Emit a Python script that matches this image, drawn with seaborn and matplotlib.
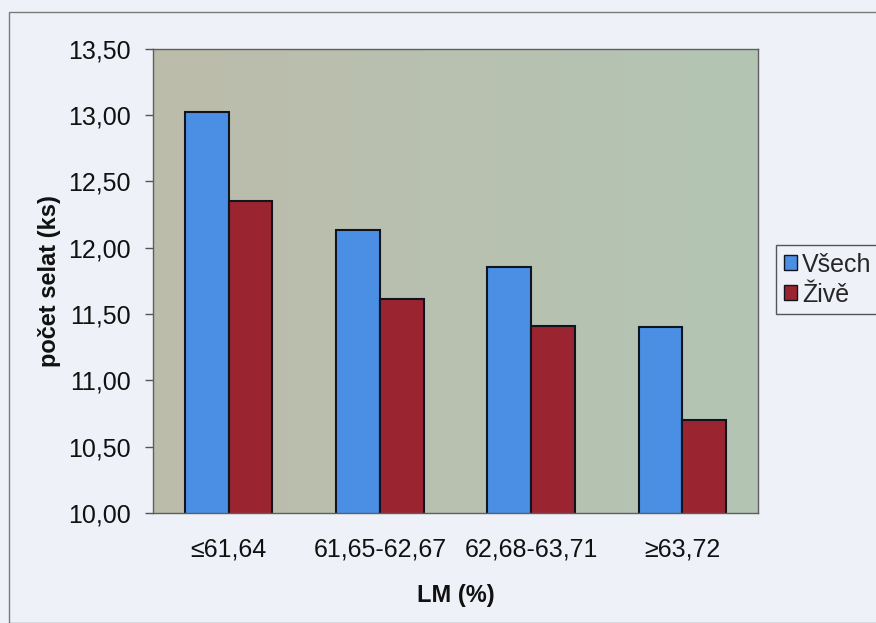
import numpy as np
import pandas as pd
import matplotlib
matplotlib.use("Agg")
import matplotlib.pyplot as plt
from matplotlib.patches import Rectangle
from matplotlib.ticker import FuncFormatter, FixedLocator
import seaborn as sns

# Data: litter size by lean meat class
categories = ["≤61,64", "61,65-62,67", "62,68-63,71", "≥63,72"]
vsech = [13.02, 12.13, 11.85, 11.40]
zive = [12.35, 11.61, 11.41, 10.70]
series_names = ["Všech", "Živě"]
y_ticks = [10.0, 10.5, 11.0, 11.5, 12.0, 12.5, 13.0, 13.5]

df = pd.DataFrame({
    "LM": categories * 2,
    "value": vsech + zive,
    "series": [series_names[0]] * len(categories) + [series_names[1]] * len(categories),
})

sns.set_theme(style="white")
plt.rcParams["font.family"] = ["Liberation Sans", "DejaVu Sans"]

fig_bg = "#eef1f7"
fig = plt.figure(figsize=(8.76, 6.23), dpi=100, facecolor=fig_bg)

# outer chart-area frame
fig.patches.append(Rectangle((9 / 876, 0), 1.0, 1 - 12 / 623, transform=fig.transFigure,
                             fill=False, edgecolor="#7a7a7a", linewidth=1.0, zorder=0))

pos = [153 / 876, 1 - 513 / 623, (758 - 153) / 876, (513 - 48.5) / 623]

# plot-area fill with a soft grey-to-green gradient
bg_ax = fig.add_axes(pos, zorder=0)
left_c = np.array([189, 188, 171]) / 255
right_c = np.array([180, 197, 180]) / 255
t = np.linspace(0, 1, 256)[None, :, None]
grad = left_c * (1 - t) + right_c * t
bg_ax.imshow(grad, aspect="auto", extent=[0, 1, 0, 1])
bg_ax.set_axis_off()

ax = fig.add_axes(pos, zorder=1)
ax.set_facecolor("none")

sns.barplot(data=df, x="LM", y="value", hue="series",
            palette=["#4a8fe3", "#9a2530"], width=0.58,
            edgecolor="#10141f", linewidth=1.5, saturation=1,
            ax=ax)

ax.set_ylim(10.0, 13.5)
ax.set_xlim(-0.5, len(categories) - 0.5)
ax.yaxis.set_major_locator(FixedLocator(y_ticks))
ax.yaxis.set_major_formatter(FuncFormatter(lambda v, p: f"{v:.2f}".replace(".", ",")))

# category-boundary tick marks on x, labels centred in each category
ax.set_xticks(range(len(categories)))
ax.set_xticklabels(categories)
ax.set_xticks(np.arange(-0.5, len(categories), 1.0), minor=True)
ax.tick_params(axis="x", which="major", length=0, pad=18, labelsize=18, colors="#111111")
ax.tick_params(axis="x", which="minor", length=6, width=1, direction="out", color="#555555")
ax.tick_params(axis="y", length=6, width=1, direction="out", color="#555555",
               pad=10, labelsize=18, labelcolor="#111111", left=True)

for s in ax.spines.values():
    s.set_visible(True)
    s.set_color("#5e5e5e")
    s.set_linewidth(1.0)

ax.set_xlabel("LM (%)", fontsize=17, fontweight="bold", color="#111111", labelpad=16)
ax.set_ylabel("počet selat (ks)", fontsize=17, fontweight="bold", color="#111111", labelpad=5)

handles, labels = ax.get_legend_handles_labels()
if ax.legend_:
    ax.legend_.remove()
leg = fig.legend(handles, labels, loc="upper left", bbox_to_anchor=(776 / 876, 1 - 245 / 623),
                 bbox_transform=fig.transFigure, borderaxespad=0, frameon=True, fancybox=False,
                 edgecolor="#555555", facecolor=fig_bg, framealpha=1, fontsize=18,
                 handlelength=0.55, handleheight=0.55, handletextpad=0.2,
                 labelspacing=0.25, borderpad=0.3)
leg.get_frame().set_linewidth(1.0)
for h in leg.legend_handles:
    h.set_linewidth(1.0)

fig.savefig("out.png", dpi=100, facecolor=fig_bg)
